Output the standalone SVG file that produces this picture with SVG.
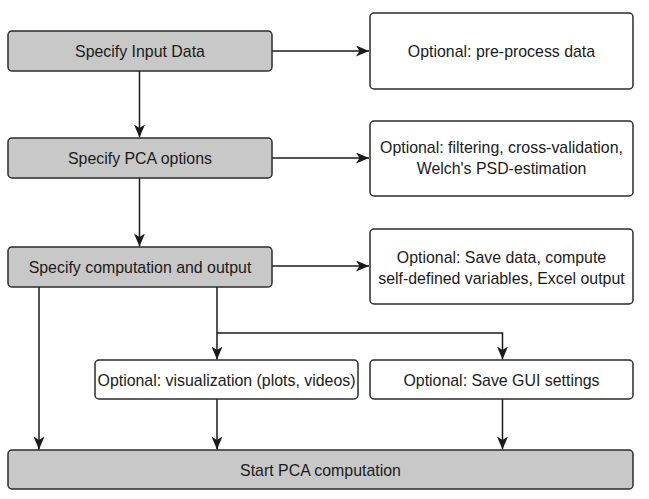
<svg xmlns="http://www.w3.org/2000/svg" width="649" height="499" viewBox="0 0 649 499">
<defs>
<style>
.g{fill:#c8c8c8;stroke:#2b2b2b;stroke-width:1.5}
.w{fill:#ffffff;stroke:#2b2b2b;stroke-width:1.5}
.t{font-family:"Liberation Sans",Arial,sans-serif;font-size:15.9px;fill:#1a1a1a;text-anchor:middle}
.c{fill:none;stroke:#1a1a1a;stroke-width:1.5}
</style>
<marker id="ah" viewBox="0 0 13 11" refX="13" refY="5.5" markerWidth="13" markerHeight="11" markerUnits="userSpaceOnUse" orient="auto">
<path d="M0,0 L13,5.5 L0,11 L3.5,5.5 Z" fill="#1a1a1a"/>
</marker>
</defs>
<rect width="649" height="499" fill="#ffffff"/>
<g id="connectors">
<path class="c" d="M272,51 H369" marker-end="url(#ah)"/>
<path class="c" d="M272,158 H369" marker-end="url(#ah)"/>
<path class="c" d="M272,266 H369" marker-end="url(#ah)"/>
<path class="c" d="M139.5,71 V137.5" marker-end="url(#ah)"/>
<path class="c" d="M139.5,178 V246.5" marker-end="url(#ah)"/>
<path class="c" d="M39,287 V449.5" marker-end="url(#ah)"/>
<path class="c" d="M217,287 V359.5" marker-end="url(#ah)"/>
<path class="c" d="M217,333 H502.5 V359.5" marker-end="url(#ah)"/>
<path class="c" d="M217,399 V449.5" marker-end="url(#ah)"/>
<path class="c" d="M502.5,399 V449.5" marker-end="url(#ah)"/>
</g>
<g id="input">
<rect class="g" x="8" y="31" width="264" height="40" rx="4"/>
<text class="t" x="140" y="56.5">Specify Input Data</text>
</g>
<g id="pca-options">
<rect class="g" x="8" y="138" width="264" height="40" rx="4"/>
<text class="t" x="140" y="163.5">Specify PCA options</text>
</g>
<g id="computation">
<rect class="g" x="8" y="247" width="264" height="40" rx="4"/>
<text class="t" x="140" y="272.5">Specify computation and output</text>
</g>
<g id="preprocess">
<rect class="w" x="370" y="13" width="263" height="76" rx="4"/>
<text class="t" x="501.5" y="56.5">Optional: pre-process data</text>
</g>
<g id="filtering">
<rect class="w" x="370" y="121" width="263" height="75" rx="4"/>
<text class="t" x="501.5" y="153">Optional: filtering, cross-validation,</text>
<text class="t" x="501.5" y="174">Welch's PSD-estimation</text>
</g>
<g id="save-data">
<rect class="w" x="370" y="229" width="263" height="75" rx="4"/>
<text class="t" x="501.5" y="263">Optional: Save data, compute</text>
<text class="t" x="501.5" y="284">self-defined variables, Excel output</text>
</g>
<g id="visualization">
<rect class="w" x="95" y="360" width="263" height="39" rx="4"/>
<text class="t" x="226.5" y="385.5">Optional: visualization (plots, videos)</text>
</g>
<g id="gui">
<rect class="w" x="370" y="360" width="263" height="39" rx="4"/>
<text class="t" x="501.5" y="385.5">Optional: Save GUI settings</text>
</g>
<g id="start">
<rect class="g" x="8" y="450" width="625" height="39" rx="4"/>
<text class="t" x="320.5" y="475.5">Start PCA computation</text>
</g>
</svg>
